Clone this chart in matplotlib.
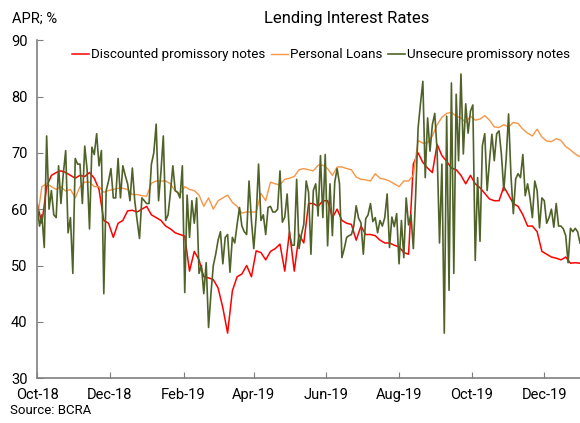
import matplotlib
matplotlib.use('Agg')
import matplotlib.pyplot as plt
import matplotlib.dates as mdates
import numpy as np
import pandas as pd

plt.rcParams['font.family'] = ['Roboto', 'DejaVu Sans']

# Annual rates (APR, %) from the BCRA series, Oct-2018 to Dec-2019.
# Discounted notes and personal loans are sampled every 4 days,
# unsecured notes every 2 days.
start = pd.Timestamp('2018-10-01')
dates_4d = pd.date_range(start, periods=115, freq='4D')
dates_2d = pd.date_range(start, periods=229, freq='2D')

discounted = [
    61, 57.5, 64, 66, 66.5, 66.8, 66.5, 66, 65.5, 66,
    65.8, 66.5, 65.5, 63.5, 58, 57.5, 55, 57.5, 58, 59.7,
    59.8, 59.5, 60, 60.5, 59, 58.5, 58, 57, 56.5, 55.8,
    55.5, 55.2, 49, 52.5, 51, 48, 47.8, 47.5, 46, 42.5,
    38, 45.5, 48, 48.5, 50, 48, 52.6, 52.3, 51, 52.5,
    53, 53.8, 49, 56, 49, 55.5, 54, 61, 61, 60.5,
    61.5, 61.5, 58.5, 60, 58, 57.5, 57.3, 54.5, 57, 55.5,
    55.5, 55.3, 54.5, 54, 54, 53.6, 53.3, 52.3, 52, 68,
    70, 68.3, 67.3, 66.5, 71.5, 69.5, 68.5, 67.3, 67, 66,
    64.5, 66, 64.5, 63.8, 62.8, 61.8, 61.5, 61.5, 64, 62.5,
    61, 60.5, 59, 57, 57, 56, 52.5, 52, 51.5, 51.3,
    51, 51.5, 50.4, 50.5, 50.4,
]

personal = [
    58, 64, 64.5, 64, 63.5, 64, 63.2, 63.5, 62, 64,
    64.8, 64.8, 64, 64, 63, 63.3, 63.5, 63.7, 63.7, 63.5,
    62.6, 62.6, 62.4, 62.3, 64.6, 65, 65, 65, 64.5, 63.2,
    62.7, 64, 63.5, 63.3, 62.5, 60.5, 62, 60, 61.5, 62,
    62.5, 61.2, 60.5, 59.3, 59.5, 59.5, 59.5, 62.8, 61.5, 64.8,
    64.5, 64.3, 65.3, 65.5, 65.8, 67, 67.2, 67, 66.8, 67.8,
    67.8, 67.2, 66, 67.5, 67.5, 67.2, 67, 65.7, 65.3, 65.2,
    65, 66.3, 65.5, 65.3, 65, 64.5, 64, 65, 65, 66,
    72.2, 71.7, 71.8, 73, 75, 76.3, 77, 77.2, 76.5, 76.2,
    75.4, 76.5, 75.8, 76, 76.6, 75.8, 74.6, 74.5, 75, 74.6,
    75.4, 75.2, 74.2, 73.5, 73, 74.2, 72.8, 72.1, 72, 72.5,
    72.2, 71.1, 70.5, 69.8, 69.3,
]

unsecured = [
    61, 57, 59, 53.2, 73, 60, 63.3, 59, 58.5, 67.7,
    61, 66.3, 70.4, 55.8, 58.5, 48.6, 69, 68, 68, 61,
    71.2, 67, 56.5, 71, 69.7, 73.4, 67.7, 70.4, 45, 63.3,
    65, 67.2, 62, 62, 69, 62, 67.7, 66, 64.5, 61.5,
    67.3, 61.5, 58, 54.8, 62, 61.5, 61, 61, 68, 70,
    75.1, 61.5, 66.6, 73, 58, 59, 63, 67.7, 63.3, 63,
    62, 67.7, 45.2, 62.5, 55, 61.5, 57.5, 62, 48.6, 50,
    45, 50.5, 39, 45, 50, 52, 54.5, 56, 50.3, 55,
    55.5, 48.8, 55, 54, 57.3, 60.3, 57, 56, 55.5, 65,
    58, 53, 58.7, 68, 58, 59, 55.5, 60.3, 60.5, 59.5,
    59.5, 60, 66.8, 57.7, 58.6, 62.7, 55.5, 53.6, 53.6, 65.3,
    53, 55.5, 57.3, 65, 63, 52, 63.3, 64.5, 58.8, 69.5,
    58.5, 69.7, 53.5, 64.5, 55.3, 64.8, 67.2, 64.5, 51.4, 53,
    55, 55.3, 55.5, 57, 60.6, 58.4, 57.6, 52, 58.3, 59,
    61, 57.8, 58.5, 55.8, 58, 57, 58.5, 62.7, 53.2, 58.6,
    56.9, 59.2, 50.3, 58, 51.4, 62, 57.2, 59, 53, 62.7,
    74.4, 78.7, 82.7, 65.6, 76.2, 70.3, 75, 77, 70.3, 54,
    68, 38, 76.5, 45.6, 82.4, 48.6, 80.4, 68.6, 84, 69.8,
    78.7, 73.5, 77.4, 78.5, 50.9, 65.6, 54.3, 71.3, 73.4, 63.3,
    68.6, 73.3, 68.6, 73.4, 73.9, 69.7, 63.3, 69, 76.9, 66,
    59.2, 65.4, 66.3, 65.6, 69.7, 62.4, 64.5, 62, 58.5, 65,
    63.3, 56.7, 62, 61.5, 57.5, 58.5, 60, 56.8, 61, 57,
    57, 56.5, 55.3, 50.5, 56.6, 56, 56.6, 56, 54,
]

labels = ['Discounted promissory notes', 'Personal Loans',
          'Unsecure promissory notes']
colors = ['#ff0000', '#f79646', '#4f6228']

fig = plt.figure(figsize=(5.8, 4.23), dpi=100)
ax = fig.add_axes([0.064, 0.106, 0.936, 0.799])

ax.plot(dates_4d, discounted, color=colors[0], lw=1.1, label=labels[0])
ax.plot(dates_4d, personal, color=colors[1], lw=1.0, label=labels[1])
ax.plot(dates_2d, unsecured, color=colors[2], lw=1.2, label=labels[2])

ax.set_ylim(30, 90)
ax.set_yticks(np.arange(30, 91, 10))
ax.set_xlim(pd.Timestamp('2018-10-01'), pd.Timestamp('2019-12-31'))
ax.xaxis.set_major_locator(mdates.MonthLocator(bymonth=[2, 4, 6, 8, 10, 12]))
ax.xaxis.set_major_formatter(mdates.DateFormatter('%b-%y'))

for side in ['top', 'right']:
    ax.spines[side].set_visible(False)
for side in ['left', 'bottom']:
    ax.spines[side].set_color('#7f7f7f')
    ax.spines[side].set_linewidth(1.2)
ax.tick_params(direction='in', length=4, color='#7f7f7f',
               labelsize=10.5, labelcolor='#000000')
ax.tick_params(axis='x', pad=7)
ax.tick_params(axis='y', pad=7)

fig.text(0.597, 0.957, 'Lending Interest Rates', ha='center', va='center',
         fontsize=12)
fig.text(0.02, 0.957, 'APR; %', ha='left', va='center', fontsize=10.5)
fig.text(0.017, 0.03, 'Source: BCRA', ha='left', va='center', fontsize=9.5)

fig.legend(loc='center', bbox_to_anchor=(0.553, 0.87), ncol=3, frameon=False,
           fontsize=9.6, handlelength=1.3, handletextpad=0.15,
           columnspacing=0.4, borderaxespad=0)

fig.savefig('out.png', dpi=100)
